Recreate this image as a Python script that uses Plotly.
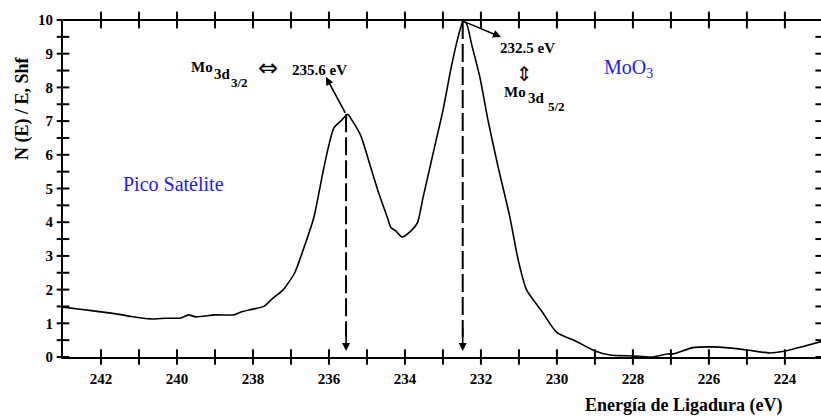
import plotly.graph_objects as go

# ---- data ----
energy = [243.0, 242.5, 242.0, 241.6, 241.2, 240.7, 240.3, 239.9, 239.7, 239.5,
          239.0, 238.5, 238.3, 238.0, 237.7, 237.5, 237.2, 236.9, 236.75, 236.4,
          236.17, 236.04, 235.87, 235.69, 235.51, 235.38, 235.16, 234.9, 234.68, 234.46,
          234.37, 234.24, 234.08, 233.84, 233.67, 233.52, 233.26, 233.0, 232.78, 232.6,
          232.47, 232.38, 232.25, 232.03, 231.81, 231.55, 231.24, 231.02, 230.8, 230.4,
          230.0, 229.5, 229.0, 228.6, 228.0, 227.5, 227.1, 226.9, 226.45, 225.9,
          225.5, 224.95, 224.4, 223.9, 223.5, 223.0]
intensity = [1.48, 1.41, 1.34, 1.28, 1.2, 1.13, 1.15, 1.16, 1.25, 1.19,
             1.25, 1.25, 1.34, 1.42, 1.51, 1.72, 2.0, 2.5, 2.95, 4.13,
             5.42, 6.11, 6.8, 7.0, 7.2, 7.0, 6.56, 5.62, 4.83, 4.13,
             3.84, 3.74, 3.56, 3.74, 3.99, 4.75, 6.04, 7.32, 8.61, 9.5,
             9.96, 9.9, 9.3, 8.31, 7.0, 5.65, 4.16, 2.88, 1.99, 1.36,
             0.72, 0.47, 0.18, 0.06, 0.03, 0.0, 0.09, 0.1, 0.27, 0.3,
             0.27, 0.2, 0.12, 0.2, 0.32, 0.47]

peak_energy = [235.55, 232.48]
peak_height = [7.2, 9.97]

x_ticks = list(range(224, 243))
x_ticklabels = [str(v) if v % 2 == 0 else "" for v in x_ticks]
y_ticks = [i * 0.5 for i in range(21)]
y_ticklabels = [str(int(v)) if v == int(v) else "" for v in y_ticks]

# ---- geometry helpers (pixel -> data) ----
X0, X1 = 243.0, 223.05
Y0, Y1 = 0.0, 10.0
L, R, T, B = 63, 821, 20, 357
def ex(px):
    return X0 - (px - L) * (X0 - X1) / (R - L)
def ey(py):
    return (B - py) * (Y1 - Y0) / (B - T)

SERIF = "Liberation Serif"
BLUE = "#1a1aff"

fig = go.Figure()
fig.add_trace(go.Scatter(x=energy, y=intensity, mode="lines",
                         line=dict(color="black", width=1.6, shape="spline", smoothing=0.6)))

# dashed vertical lines from peaks
for pe, ph in zip(peak_energy, peak_height):
    fig.add_trace(go.Scatter(x=[pe, pe], y=[ph, 0.6], mode="lines",
                             line=dict(color="black", width=2, dash="18px,5px")))

# crossing tick marks (bottom, top, left) and inward ticks on the right edge
def tick_trace(xs, ys, symbol, size):
    return go.Scatter(x=xs, y=ys, mode="markers", cliponaxis=False, hoverinfo="skip",
                      marker=dict(symbol=symbol, size=size, color="black",
                                  line=dict(color="black", width=2)))

fig.add_trace(tick_trace(x_ticks, [Y0] * len(x_ticks), "line-ns", 11))
fig.add_trace(tick_trace(x_ticks, [Y1] * len(x_ticks), "line-ns", 12))
fig.add_trace(tick_trace([X0] * len(y_ticks), y_ticks, "line-ew", 9))
fig.add_trace(tick_trace([X1] * len(y_ticks), y_ticks, "line-ew", 8))

tickfont = dict(family=SERIF, size=15, color="black", weight="bold")

fig.update_layout(
    width=821, height=416, template="none", showlegend=False,
    margin=dict(l=L, r=821 - R, t=T, b=416 - B),
    xaxis=dict(range=[X0, X1], tickmode="array", tickvals=x_ticks, ticktext=x_ticklabels,
               ticks="", ticklabelstandoff=7, showgrid=False, zeroline=False,
               showline=True, linecolor="black", linewidth=2, tickfont=tickfont),
    yaxis=dict(range=[Y0, Y1], tickmode="array", tickvals=y_ticks, ticktext=y_ticklabels,
               ticks="", ticklabelstandoff=5, showgrid=False, zeroline=False,
               showline=True, linecolor="black", linewidth=2, tickfont=tickfont),
    shapes=[dict(type="line", xref="paper", yref="paper", x0=0, x1=1, y0=1, y1=1,
                 line=dict(color="black", width=2))],
)

anns = []
def txt(text, px, py, size=15, bold=True, color="black"):
    anns.append(dict(x=ex(px), y=ey(py), xref="x", yref="y", text=text, showarrow=False,
                     xanchor="left", yanchor="middle",
                     font=dict(family=SERIF, size=size, color=color,
                               weight="bold" if bold else "normal")))

# Mo3d3/2 <=> 235.6 eV
txt("Mo", 189, 67, 15)
txt("3d", 212, 74, 15)
txt("3/2", 229, 82, 13)
anns.append(dict(x=ex(268), y=ey(68), xref="x", yref="y", text="⇔", showarrow=False,
                 xanchor="center", yanchor="middle",
                 font=dict(family="DejaVu Sans", size=24, color="black")))
txt("235.6 eV", 290, 70, 15)

# 232.5 eV, up-down arrow, Mo3d5/2
txt("232.5 eV", 498, 48, 15)
anns.append(dict(x=ex(524), y=ey(74), xref="x", yref="y", text="⇕", showarrow=False,
                 xanchor="center", yanchor="middle",
                 font=dict(family="DejaVu Sans", size=20, color="black")))
txt("Mo", 502, 92, 15)
txt("3d", 526, 98, 15)
txt("5/2", 546, 106, 13)

# blue labels
txt("MoO<sub>3</sub>", 602, 68, 20, bold=False, color=BLUE)
txt("Pico Satélite", 121, 184, 20, bold=False, color=BLUE)

# arrows from peaks to labels
anns.append(dict(x=ex(326), y=ey(77), ax=peak_energy[0], ay=peak_height[0],
                 xref="x", yref="y", axref="x", ayref="y", text="", showarrow=True,
                 arrowhead=2, arrowsize=1, arrowwidth=1.6, arrowcolor="black", standoff=0))
anns.append(dict(x=ex(501), y=ey(37), ax=peak_energy[1], ay=peak_height[1],
                 xref="x", yref="y", axref="x", ayref="y", text="", showarrow=True,
                 arrowhead=2, arrowsize=1, arrowwidth=1.6, arrowcolor="black", standoff=0))
# arrowheads at bottom of dashed lines
for pe in peak_energy:
    anns.append(dict(x=pe, y=ey(351), ax=pe, ay=0.9,
                     xref="x", yref="y", axref="x", ayref="y", text="", showarrow=True,
                     arrowhead=2, arrowsize=1, arrowwidth=1.6, arrowcolor="black", standoff=0))

# axis titles
anns.append(dict(x=(22 - L) / (R - L), y=(B - 108) / (B - T), xref="paper", yref="paper",
                 text="N (E) / E, Shf", textangle=-90, showarrow=False,
                 xanchor="center", yanchor="middle",
                 font=dict(family=SERIF, size=18, color="black", weight="bold")))
anns.append(dict(x=(684 - L) / (R - L), y=-(405 - B) / (B - T), xref="paper", yref="paper",
                 text="Energía de Ligadura (eV)", showarrow=False,
                 xanchor="center", yanchor="middle",
                 font=dict(family=SERIF, size=18, color="black", weight="bold")))

fig.update_layout(annotations=anns)
fig.write_html("out.html")
